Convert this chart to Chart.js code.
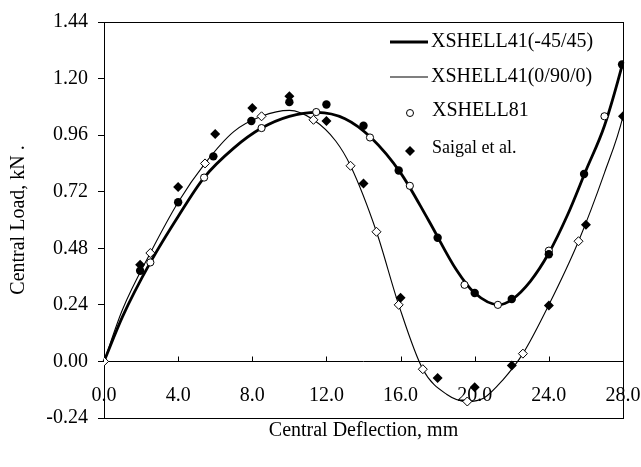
<!DOCTYPE html>
<html>
<head>
<meta charset="utf-8">
<script src="https://cdn.jsdelivr.net/npm/chart.js@4.4.0/dist/chart.umd.min.js"></script>
<style>
  html, body { margin: 0; padding: 0; background: #fff; }
</style>
</head>
<body>
<canvas id="chart" width="641" height="467"></canvas>
<script>
// tick labels
const xTicks = [0, 4, 8, 12, 16, 20, 24, 28];
const yTicks = [-0.24, 0, 0.24, 0.48, 0.72, 0.96, 1.2, 1.44];

const seriesNames = ['XSHELL41(-45/45)', 'XSHELL41(0/90/0)', 'XSHELL81', 'Saigal et al.'];

// XSHELL41(-45/45) curve (thick line)
const thickX = [0, 1, 2.5, 4, 5.4, 7, 8.5, 10, 11.5, 13, 14.4, 16, 17.5, 19, 20, 21.3, 22, 23, 24, 25, 26, 27, 28, 28.25];
const thickY = [0, 0.19, 0.42, 0.615, 0.78, 0.905, 0.99, 1.04, 1.057, 1.03, 0.95, 0.8, 0.6, 0.39, 0.29, 0.24, 0.262, 0.34, 0.46, 0.62, 0.81, 1.0, 1.27, 1.35];

// XSHELL41(0/90/0) curve (thin line)
const thinX = [0, 1, 2.5, 4, 5.45, 7, 8.5, 10, 11.3, 12.5, 13.3, 14.7, 15.9, 17.2, 18.5, 19.6, 20.5, 21.5, 22.6, 24, 25.6, 27, 28, 28.25];
const thinY = [0, 0.22, 0.46, 0.675, 0.84, 0.975, 1.04, 1.065, 1.025, 0.935, 0.83, 0.55, 0.24, -0.033, -0.14, -0.17, -0.155, -0.08, 0.033, 0.24, 0.51, 0.8, 1.04, 1.14];

// XSHELL81, open circles (-45/45) and open diamonds (0/90/0)
const x81CircX = [2.5, 5.4, 8.5, 11.45, 14.35, 16.5, 19.45, 21.25, 24.0, 27.0];
const x81CircY = [0.42, 0.78, 0.99, 1.058, 0.95, 0.745, 0.325, 0.24, 0.47, 1.04];
const x81DiamX = [0, 2.5, 5.45, 8.5, 11.3, 13.3, 14.7, 15.9, 17.2, 19.6, 22.6, 25.6];
const x81DiamY = [0, 0.46, 0.84, 1.04, 1.025, 0.83, 0.55, 0.24, -0.033, -0.17, 0.033, 0.51];

// Saigal et al., filled circles (-45/45) and filled diamonds (0/90/0)
const saigalCircX = [1.95, 4.0, 5.9, 7.95, 10.0, 12.0, 14.0, 15.9, 18.0, 20.0, 22.0, 24.0, 25.9, 27.95];
const saigalCircY = [0.385, 0.675, 0.87, 1.02, 1.10, 1.09, 1.0, 0.81, 0.525, 0.29, 0.265, 0.455, 0.795, 1.26];
const saigalDiamX = [1.95, 4.0, 6.0, 8.0, 10.0, 12.0, 14.0, 16.0, 18.0, 20.0, 22.0, 24.0, 26.0, 28.0];
const saigalDiamY = [0.41, 0.74, 0.965, 1.075, 1.125, 1.02, 0.755, 0.27, -0.07, -0.11, -0.017, 0.237, 0.58, 1.04];

const FONT = "'Liberation Serif', 'Times New Roman', serif";

function pts(xs, ys) {
    return xs.map((x, i) => ({ x: x, y: ys[i] }));
}

// box, zero line with inward ticks, and the legend inside the plot
const framePlugin = {
    id: 'frame',
    beforeDatasetsDraw(chart) {
        const { ctx, chartArea: a, scales } = chart;
        const y0 = Math.round(scales.y.getPixelForValue(0)) + 0.5;
        ctx.save();
        ctx.strokeStyle = '#000';
        ctx.lineWidth = 1;
        ctx.strokeRect(Math.round(a.left) + 0.5, Math.round(a.top) + 0.5,
            Math.round(a.right - a.left), Math.round(a.bottom - a.top));
        ctx.beginPath();
        ctx.moveTo(a.left, y0);
        ctx.lineTo(a.right, y0);
        xTicks.forEach(v => {
            const px = Math.round(scales.x0.getPixelForValue(v)) + 0.5;
            ctx.moveTo(px, y0);
            ctx.lineTo(px, y0 - 5);
        });
        ctx.stroke();
        ctx.restore();
    },
    afterDraw(chart) {
        const ctx = chart.ctx;
        ctx.save();
        ctx.strokeStyle = '#000';
        ctx.fillStyle = '#000';
        ctx.font = '20px ' + FONT;
        ctx.textBaseline = 'middle';
        ctx.textAlign = 'left';

        // thick line
        ctx.lineWidth = 2.8;
        ctx.beginPath(); ctx.moveTo(390, 42); ctx.lineTo(428, 42); ctx.stroke();
        ctx.fillText(seriesNames[0], 431, 42);
        // thin line
        ctx.lineWidth = 1.1;
        ctx.beginPath(); ctx.moveTo(390, 77); ctx.lineTo(428, 77); ctx.stroke();
        ctx.fillText(seriesNames[1], 431, 77);
        // open circle
        ctx.lineWidth = 1;
        ctx.beginPath(); ctx.arc(410, 113, 3.5, 0, Math.PI * 2);
        ctx.fillStyle = '#fff'; ctx.fill(); ctx.stroke();
        ctx.fillStyle = '#000';
        ctx.fillText(seriesNames[2], 432, 111);
        // filled diamond
        ctx.beginPath();
        ctx.moveTo(410, 146); ctx.lineTo(415, 151); ctx.lineTo(410, 156); ctx.lineTo(405, 151);
        ctx.closePath(); ctx.fill();
        ctx.font = '18px ' + FONT;
        ctx.fillText(seriesNames[3], 432, 148);
        ctx.restore();
    }
};

const lineStyle = {
    showLine: true,
    borderColor: '#000',
    pointRadius: 0,
    cubicInterpolationMode: 'monotone',
    clip: false,
    order: 5
};

new Chart(document.getElementById('chart'), {
    type: 'scatter',
    data: {
        datasets: [
            { ...lineStyle, label: seriesNames[0], data: pts(thickX, thickY), borderWidth: 2.8 },
            { ...lineStyle, label: seriesNames[1], data: pts(thinX, thinY), borderWidth: 1.1 },
            {
                label: 'XSHELL81 (-45/45)', data: pts(x81CircX, x81CircY), pointStyle: 'circle', pointRadius: 3.6,
                pointBackgroundColor: '#fff', pointBorderColor: '#000', pointBorderWidth: 1, order: 2
            },
            {
                label: 'XSHELL81 (0/90/0)', data: pts(x81DiamX, x81DiamY), pointStyle: 'rectRot', pointRadius: 4.5,
                pointBackgroundColor: '#fff', pointBorderColor: '#000', pointBorderWidth: 1, order: 2
            },
            {
                label: 'Saigal et al. (-45/45)', data: pts(saigalCircX, saigalCircY), pointStyle: 'circle', pointRadius: 4.2,
                pointBackgroundColor: '#000', pointBorderColor: '#000', pointBorderWidth: 0, order: 1
            },
            {
                label: 'Saigal et al. (0/90/0)', data: pts(saigalDiamX, saigalDiamY), pointStyle: 'rectRot', pointRadius: 5,
                pointBackgroundColor: '#000', pointBorderColor: '#000', pointBorderWidth: 0, order: 1
            }
        ]
    },
    options: {
        responsive: false,
        animation: false,
        devicePixelRatio: 1,
        events: [],
        layout: { padding: { left: 0, top: 16, right: 18, bottom: 24 } },
        plugins: {
            legend: { display: false },
            tooltip: { enabled: false }
        },
        scales: {
            x: {
                type: 'linear',
                position: 'bottom',
                min: 0,
                max: 28,
                ticks: { display: false },
                grid: { display: false, drawTicks: false },
                border: { display: false },
                title: {
                    display: true,
                    text: 'Central Deflection, mm',
                    color: '#000',
                    font: { family: FONT, size: 20 },
                    padding: { top: 1, bottom: 0 }
                }
            },
            x0: {
                type: 'linear',
                axis: 'x',
                position: { y: 0 },
                min: 0,
                max: 28,
                afterBuildTicks: s => { s.ticks = xTicks.map(v => ({ value: v })); },
                afterFit: s => { s.paddingLeft = 0; s.paddingRight = 0; },
                ticks: {
                    color: '#000',
                    font: { family: FONT, size: 20 },
                    padding: 14,
                    autoSkip: false,
                    maxRotation: 0,
                    callback: v => v.toFixed(1)
                },
                grid: { display: false },
                border: { display: false }
            },
            y: {
                type: 'linear',
                min: -0.24,
                max: 1.44,
                afterBuildTicks: s => { s.ticks = yTicks.map(v => ({ value: v })); },
                afterFit: s => { s.width = 104; },
                ticks: {
                    color: '#000',
                    font: { family: FONT, size: 20 },
                    padding: 10,
                    callback: v => v.toFixed(2)
                },
                grid: { drawOnChartArea: false, drawTicks: true, tickLength: 6, color: '#000' },
                border: { display: false },
                title: {
                    display: true,
                    text: 'Central Load, kN .',
                    color: '#000',
                    font: { family: FONT, size: 20 },
                    padding: { top: 7, bottom: 0 }
                }
            }
        }
    },
    plugins: [framePlugin]
});
</script>
</body>
</html>
